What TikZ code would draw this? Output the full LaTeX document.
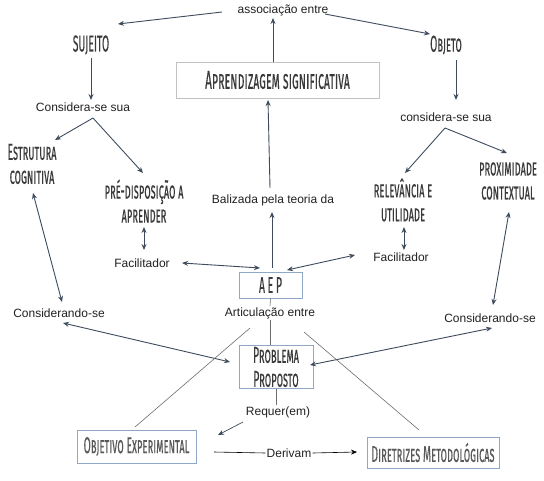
\documentclass[tikz,border=0pt]{standalone}
\usepackage{fontspec}
\setmainfont{Liberation Sans}
\newfontfamily\handfont[Letters=SmallCaps,FakeStretch=0.45,FakeBold=0.2]{Fira Sans}
\usetikzlibrary{calc,arrows.meta}
\definecolor{arrowc}{HTML}{3D4B5C}
\definecolor{linec}{HTML}{6E6E6E}
\definecolor{greybox}{HTML}{C2C2C2}
\definecolor{bluebox}{HTML}{8FA8C8}
\definecolor{sanstext}{HTML}{222222}
\definecolor{handtext}{HTML}{3A3A3A}
\definecolor{lighthand}{HTML}{595959}
\tikzset{
  x=1pt, y=-1pt,
  sans/.style={font=\fontsize{12}{14}\selectfont, text=sanstext, inner sep=1pt},
  hand/.style={font=\handfont\fontsize{23}{24}\selectfont, text=handtext, inner sep=1pt, align=center},
  bighand/.style={font=\handfont\fontsize{26}{28}\selectfont, text=handtext, inner sep=1pt, align=center},
  greyframe/.style={draw=greybox, line width=0.8pt},
  blueframe/.style={draw=bluebox, line width=1pt},
  arr/.style={draw=arrowc, line width=0.9pt, -{Stealth[length=6pt,width=5pt]}},
  darr/.style={draw=arrowc, line width=0.9pt, {Stealth[length=6pt,width=5pt]}-{Stealth[length=6pt,width=5pt]}},
  plain/.style={draw=linec, line width=0.6pt},
}
\begin{document}
\begin{tikzpicture}
\useasboundingbox[fill=white] (0,0) rectangle (544,480);
% nodes
\node[sans] (assoc) at (283,10) {associação entre};
\node[hand] (suj) at (91,45) {SUJEITO};
\node[hand] (obj) at (446,45) {Objeto};
\node[bighand, greyframe, minimum width=203pt, minimum height=36pt] (as) at (277.5,80) {Aprendizagem significativa};
\node[sans] (cons1) at (83,107) {Considera-se sua};
\node[sans] (cons2) at (446,117) {considera-se sua};
\node[hand] (estr) at (32,164) {Estrutura\\cognitiva};
\node[hand] (pre) at (144,201) {pré-disposição a\\aprender};
\node[hand] (rel) at (403,200) {relevância e\\utilidade};
\node[hand] (prox) at (508,181) {proximidade\\contextual};
\node[sans] (bal) at (273,200) {Balizada pela teoria da};
\node[sans] (fac1) at (142,263) {Facilitador};
\node[sans] (fac2) at (401,257) {Facilitador};
\node[hand, blueframe, minimum width=63pt, minimum height=26pt] (aep) at (270.5,285) {A E P};
\node[sans] (art) at (270,313) {Articulação entre};
\node[hand, blueframe, minimum width=74pt, minimum height=40pt] (prob) at (276,367) {Problema\\Proposto};
\node[sans] (req) at (278,412) {Requer(em)};
\node[hand, text=lighthand, blueframe, minimum width=119pt, minimum height=33pt] (objexp) at (136.5,446.5) {Objetivo Experimental};
\node[sans] (der) at (289,453) {Derivam};
\node[hand, text=lighthand, blueframe, minimum width=132pt, minimum height=31pt] (dir) at (433,452.5) {Diretrizes Metodológicas};
\node[sans] (consd1) at (59,313) {Considerando-se};
\node[sans] (consd2) at (490,318) {Considerando-se};
% connectors
\draw[arr] ($(assoc)+(-61,2)$) -- ($(suj)+(27,-21)$);
\draw[arr] ($(assoc)+(42,4)$) -- ($(obj)+(-16,-11)$);
\draw[arr] ($(as)+(-4.5,-18)$) -- ($(assoc)+(-10,8)$);
\draw[arr] ($(suj)+(0,13)$) -- ($(cons1)+(8,-7)$);
\draw[arr] ($(obj)+(10,15)$) -- ($(cons2)+(10,-17)$);
\draw[arr] ($(cons1)+(10,11)$) -- ($(estr)+(23,-24)$);
\draw[arr] ($(cons1)+(10,11)$) -- ($(pre)+(-1,-28)$);
\draw[arr] ($(cons2)+(-1,11)$) -- ($(rel)+(2,-27)$);
\draw[arr] ($(cons2)+(-1,11)$) -- ($(prox)+(-1,-28)$);
\draw[darr] ($(pre)+(0,26)$) -- ($(fac1)+(2,-13)$);
\draw[darr] ($(rel)+(1,27)$) -- ($(fac2)+(3,-7)$);
\draw[darr] ($(fac1)+(40,0)$) -- ($(aep)+(-10.5,-17)$);
\draw[darr] ($(fac2)+(-46,-2)$) -- ($(aep)+(16.5,-15)$);
\draw[arr] ($(aep)+(1.5,-17)$) -- ($(bal)+(-1,12)$);
\draw[arr] ($(bal)+(-3,-12)$) -- ($(as)+(-9.5,20)$);
\draw[darr] ($(estr)+(1,29)$) -- ($(consd1)+(3,-11)$);
\draw[darr] ($(prox)+(1,31)$) -- ($(consd2)+(3,-13)$);
\draw[darr] ($(consd1)+(4,10)$) -- ($(prob)+(-46,-5)$);
\draw[darr] ($(consd2)+(2,10)$) -- ($(prob)+(34,-2)$);
\draw[plain] (aep.south) -- (art.north);
\draw[plain] (art.south) -- (prob.north -| art);
\draw[plain] (prob.south) -- (req.north -| prob);
\draw[arr, line width=0.7pt] ($(req)+(-35,10)$) -- ($(objexp)+(81.5,-11.5)$);
\draw[plain, draw=black] ($(objexp)+(77.5,5.5)$) -- (der.west);
\draw[arr, draw=black, line width=0.6pt] (der.east) -- ($(dir)+(-76,-0.5)$);
\draw[plain] ($(art)+(-20,15)$) -- ($(objexp)+(-1.5,-19.5)$);
\draw[plain] ($(art)+(34,19)$) -- ($(dir)+(-14,-22.5)$);
\end{tikzpicture}
\end{document}
